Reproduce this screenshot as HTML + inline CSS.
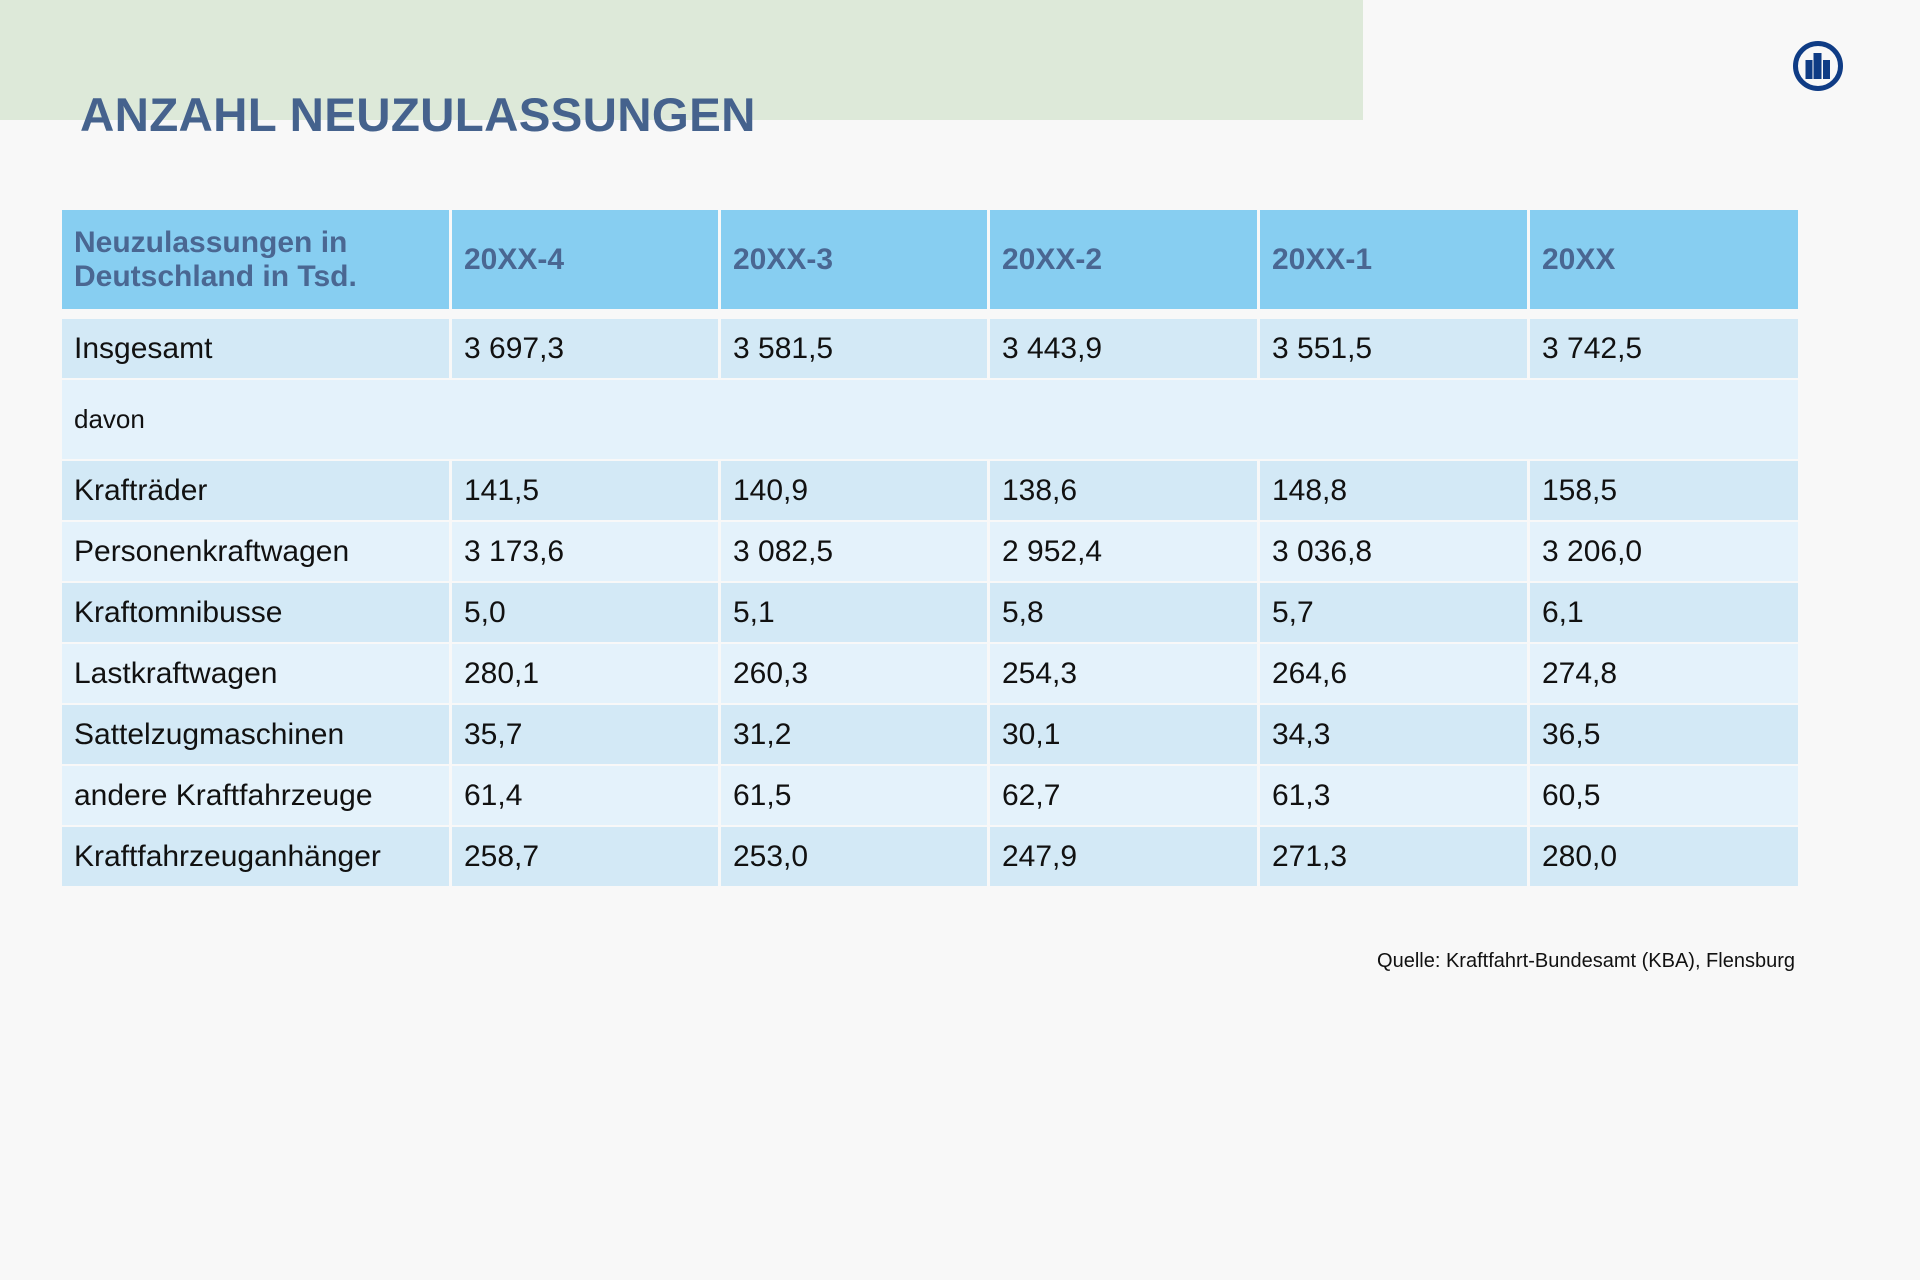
<!DOCTYPE html>
<html><head><meta charset="utf-8"><style>
body{margin:0;width:1920px;height:1280px;background:#f8f8f8;position:relative;overflow:hidden;font-family:"Liberation Sans",Arial,sans-serif}
.band{position:absolute;left:0;top:0;width:1363px;height:120px;background:#dde9d9}
.title{position:absolute;left:80px;top:88px;font-size:47.5px;font-weight:bold;color:#45628d;letter-spacing:0.3px}
table{position:absolute;left:59px;top:208px;border-collapse:separate;border-spacing:3px 2px;}
td{padding:0 0 0 12px;font-size:30px;color:#111;vertical-align:middle}
tr.h td{background:#87cef1;color:#4a6792;font-weight:bold;height:99px;font-size:30px;line-height:34px}
tr.d td{background:#d3e9f6;height:59px}
tr.l td{background:#e4f2fb;height:59px}
tr.v td{height:79px;font-size:26px}
.src{position:absolute;right:125px;top:950px;font-size:20px;color:#111}
</style></head><body>
<div class="band"></div>
<div class="title">ANZAHL NEUZULASSUNGEN</div>
<svg style="position:absolute;left:1792px;top:40px" width="52" height="52" viewBox="0 0 52 52">
<circle cx="26" cy="26" r="22.5" fill="none" stroke="#0f3c85" stroke-width="5"/>
<rect x="13.5" y="20" width="7" height="19" fill="#0f3c85"/>
<path d="M21.5 13h8v26h-8z" fill="#0f3c85"/>
<rect x="31" y="20" width="7" height="19" fill="#0f3c85"/>
</svg>
<table>
<colgroup><col style="width:387px"><col style="width:266px"><col style="width:266px"><col style="width:267px"><col style="width:267px"><col style="width:268px"></colgroup>
<tr class="h"><td>Neuzulassungen in<br>Deutschland in Tsd.</td><td>20XX-4</td><td>20XX-3</td><td>20XX-2</td><td>20XX-1</td><td>20XX</td></tr>
<tr><td colspan="6" style="height:6px;padding:0"></td></tr>
<tr class="d"><td>Insgesamt</td><td>3 697,3</td><td>3 581,5</td><td>3 443,9</td><td>3 551,5</td><td>3 742,5</td></tr>
<tr class="l v"><td colspan="6">davon</td></tr>
<tr class="d"><td>Krafträder</td><td>141,5</td><td>140,9</td><td>138,6</td><td>148,8</td><td>158,5</td></tr>
<tr class="l"><td>Personenkraftwagen</td><td>3 173,6</td><td>3 082,5</td><td>2 952,4</td><td>3 036,8</td><td>3 206,0</td></tr>
<tr class="d"><td>Kraftomnibusse</td><td>5,0</td><td>5,1</td><td>5,8</td><td>5,7</td><td>6,1</td></tr>
<tr class="l"><td>Lastkraftwagen</td><td>280,1</td><td>260,3</td><td>254,3</td><td>264,6</td><td>274,8</td></tr>
<tr class="d"><td>Sattelzugmaschinen</td><td>35,7</td><td>31,2</td><td>30,1</td><td>34,3</td><td>36,5</td></tr>
<tr class="l"><td>andere Kraftfahrzeuge</td><td>61,4</td><td>61,5</td><td>62,7</td><td>61,3</td><td>60,5</td></tr>
<tr class="d"><td>Kraftfahrzeuganhänger</td><td>258,7</td><td>253,0</td><td>247,9</td><td>271,3</td><td>280,0</td></tr>
</table>
<div class="src">Quelle: Kraftfahrt-Bundesamt (KBA), Flensburg</div>
</body></html>
